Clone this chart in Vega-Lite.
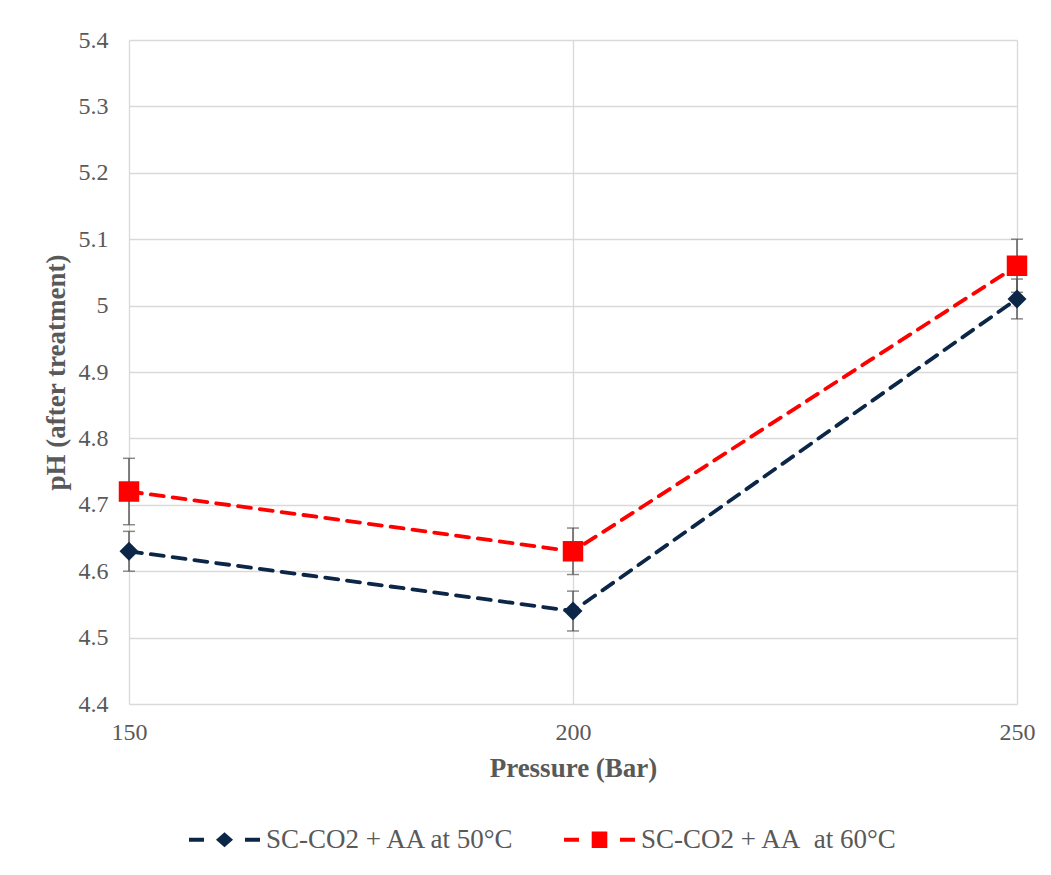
{
  "$schema": "https://vega.github.io/schema/vega-lite/v6.json",
  "width": 888,
  "height": 664,
  "autosize": {"type": "none"},
  "padding": {"left": 129, "top": 40, "right": 34, "bottom": 171},
  "background": "white",
  "config": {
    "view": {"stroke": null},
    "font": "Liberation Serif",
    "axis": {
      "grid": true,
      "gridColor": "#D9D9D9",
      "gridWidth": 1.3,
      "domain": false,
      "ticks": false,
      "labelFont": "Liberation Serif",
      "labelFontSize": 24,
      "labelColor": "#595959",
      "labelFlush": false,
      "titleFont": "Liberation Serif",
      "titleFontSize": 27,
      "titleFontWeight": "bold",
      "titleColor": "#595959"
    }
  },
  "data": {
    "values": [
      {"pressure": 150, "series": "SC-CO2 + AA at 50°C", "pH": 4.63, "lo": 4.60, "hi": 4.66},
      {"pressure": 200, "series": "SC-CO2 + AA at 50°C", "pH": 4.54, "lo": 4.51, "hi": 4.57},
      {"pressure": 250, "series": "SC-CO2 + AA at 50°C", "pH": 5.01, "lo": 4.98, "hi": 5.04},
      {"pressure": 150, "series": "SC-CO2 + AA  at 60°C", "pH": 4.72, "lo": 4.67, "hi": 4.77},
      {"pressure": 200, "series": "SC-CO2 + AA  at 60°C", "pH": 4.63, "lo": 4.595, "hi": 4.665},
      {"pressure": 250, "series": "SC-CO2 + AA  at 60°C", "pH": 5.06, "lo": 5.02, "hi": 5.10}
    ]
  },
  "encoding": {
    "x": {
      "field": "pressure",
      "type": "quantitative",
      "scale": {"domain": [150, 250], "nice": false, "zero": false},
      "axis": {"values": [150, 200, 250], "labelPadding": 16, "title": "Pressure (Bar)", "titlePadding": 11}
    }
  },
  "layer": [
    {
      "mark": {"type": "rule", "color": "#595959", "strokeWidth": 1.5},
      "encoding": {
        "y": {
          "field": "lo",
          "type": "quantitative",
          "scale": {"domain": [4.4, 5.4], "nice": false, "zero": false},
          "axis": {
            "values": [4.4, 4.5, 4.6, 4.7, 4.8, 4.9, 5.0, 5.1, 5.2, 5.3, 5.4],
            "format": ".1~f",
            "labelPadding": 21,
            "title": "pH (after treatment)",
            "titlePadding": 8
          }
        },
        "y2": {"field": "hi"}
      }
    },
    {
      "mark": {"type": "tick", "orient": "horizontal", "color": "#595959", "size": 12, "thickness": 1.5},
      "encoding": {"y": {"field": "lo", "type": "quantitative"}}
    },
    {
      "mark": {"type": "tick", "orient": "horizontal", "color": "#595959", "size": 12, "thickness": 1.5},
      "encoding": {"y": {"field": "hi", "type": "quantitative"}}
    },
    {
      "mark": {"type": "line", "strokeWidth": 3.8, "strokeDash": [13, 9], "strokeCap": "round"},
      "encoding": {
        "y": {"field": "pH", "type": "quantitative"},
        "color": {
          "field": "series",
          "type": "nominal",
          "scale": {"domain": ["SC-CO2 + AA at 50°C", "SC-CO2 + AA  at 60°C"], "range": ["#0C2648", "#FF0000"]},
          "legend": {
            "orient": "none",
            "legendX": 60,
            "legendY": 764,
            "direction": "horizontal",
            "title": null,
            "padding": 0,
            "symbolSize": 5041,
            "symbolType": "square",
            "labelFont": "Liberation Serif",
            "labelFontSize": 27,
            "labelColor": "#595959",
            "labelOffset": 6,
            "labelLimit": 500,
            "columnPadding": 48,
            "labelExpr": "replace(datum.label, '  ', '\u00a0 ')",
            "encode": {
              "symbols": {
                "update": {
                  "shape": {"signal": "indexof(datum.value, '50') >= 0 ? 'M-1,-0.056H-0.577V0.056H-1Z M0,-0.21L0.24,0L0,0.21L-0.24,0Z M0.577,-0.056H1V0.056H0.577Z' : 'M-1,-0.056H-0.577V0.056H-1Z M-0.22,-0.23H0.22V0.23H-0.22Z M0.577,-0.056H1V0.056H0.577Z'"},
                  "fill": {"signal": "scale('color', datum.value)"},
                  "stroke": {"value": "transparent"},
                  "strokeWidth": {"value": 0},
                  "strokeDash": {"value": []},
                  "opacity": {"value": 1}
                }
              }
            }
          }
        }
      }
    },
    {
      "transform": [{"filter": "datum.series === 'SC-CO2 + AA at 50°C'"}],
      "mark": {"type": "point", "filled": true, "opacity": 1, "shape": "diamond", "size": 360},
      "encoding": {
        "y": {"field": "pH", "type": "quantitative"},
        "color": {"field": "series", "type": "nominal"}
      }
    },
    {
      "transform": [{"filter": "datum.series === 'SC-CO2 + AA  at 60°C'"}],
      "mark": {"type": "point", "filled": true, "opacity": 1, "shape": "square", "size": 420},
      "encoding": {
        "y": {"field": "pH", "type": "quantitative"},
        "color": {"field": "series", "type": "nominal"}
      }
    }
  ]
}
